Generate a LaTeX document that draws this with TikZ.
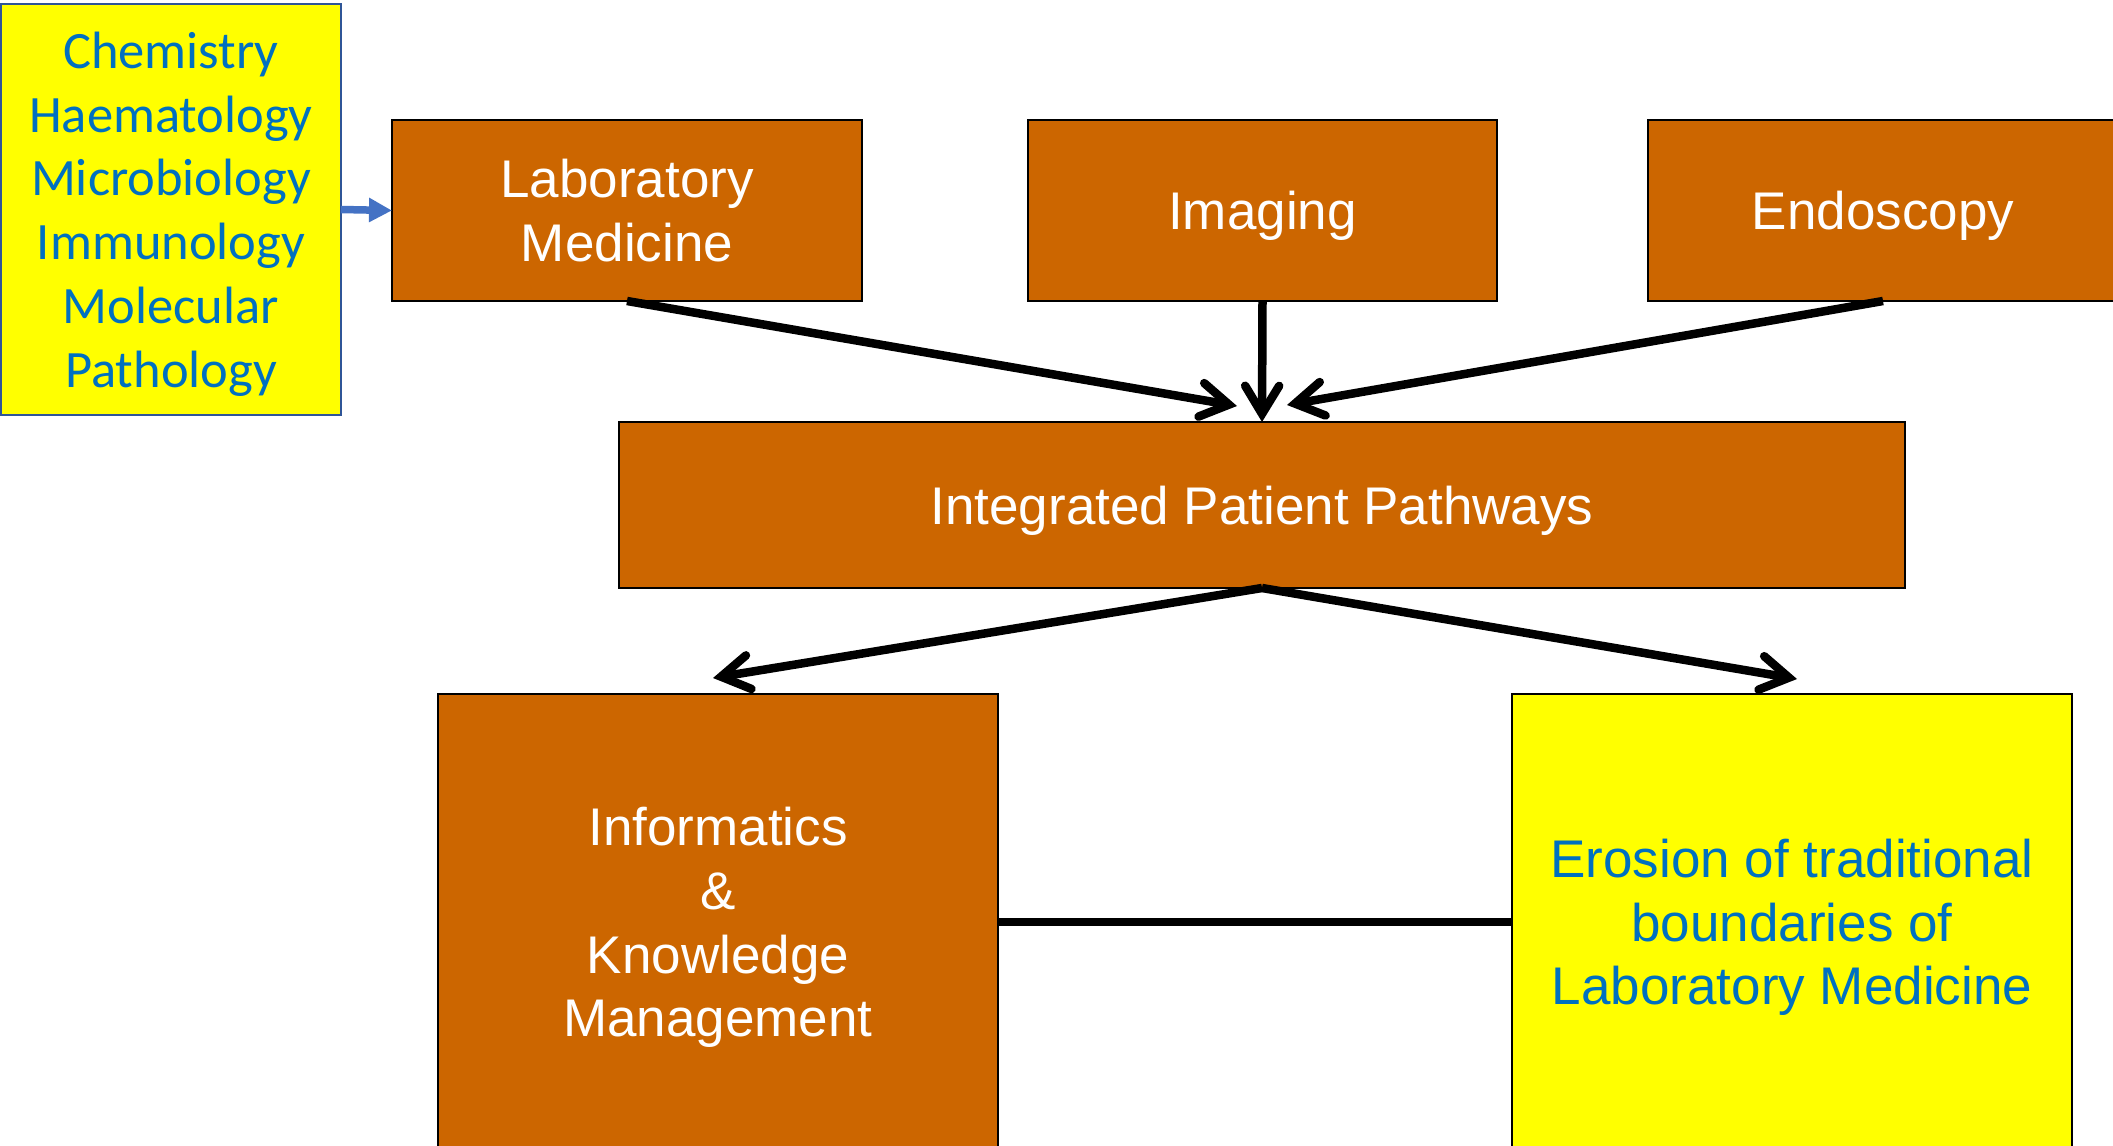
\documentclass[tikz,border=0pt]{standalone}
\usepackage{fontspec}
\setmainfont{Liberation Sans}
\newfontfamily\calfont{Carlito}
\usetikzlibrary{arrows.meta,calc}
\definecolor{boxorange}{HTML}{CC6600}
\definecolor{txtblue}{HTML}{0070C0}
\definecolor{arrblue}{HTML}{4472C4}
\definecolor{edgeblue}{HTML}{2F5597}
\definecolor{boxyellow}{HTML}{FFFF00}
\begin{document}
\begin{tikzpicture}[x=1pt,y=-1pt,
  basebox/.style={draw=black, line width=2.5pt, inner sep=0pt, outer sep=0pt,
    align=center, anchor=north west, text depth=0pt,
    font=\fontsize{53}{63.7}\selectfont},
  obox/.style={basebox, fill=boxorange, text=white},
  ybox/.style={basebox, fill=boxyellow, text=txtblue},
  conn/.style={line width=8.5pt, draw=black,
    -{Straight Barb[length=28pt,width=34pt,line cap=round,line join=miter]}},
  plainline/.style={line width=8.5pt, draw=black},
  bluearrow/.style={line width=7.5pt, draw=arrblue,
    -{Triangle[length=23pt,width=23pt]}}
]
\useasboundingbox (0,0) rectangle (2113,1146);
\clip (0,0) rectangle (2113,1146);
\fill[white] (0,0) rectangle (2113,1146);

\node[ybox, draw=edgeblue, minimum width=340pt, minimum height=411pt,
  font=\calfont\fontsize{52.5}{63.8}\selectfont] (chem) at (1,4)
  {Chemistry\\Haematology\\Microbiology\\Immunology\\Molecular\\Pathology};

\node[obox, minimum width=470pt, minimum height=181pt] (lab) at (392,120)
  {Laboratory\\Medicine};
\node[obox, minimum width=469pt, minimum height=181pt] (img) at (1028,120)
  {Imaging};
\node[obox, minimum width=470pt, minimum height=181pt] (endo) at (1648,120)
  {Endoscopy};

\node[obox, minimum width=1286pt, minimum height=166pt] (ipp) at (619,422)
  {Integrated Patient Pathways};

\node[obox, minimum width=560pt, minimum height=456pt] (info) at (438,694)
  {Informatics\\\&\\Knowledge\\Management};
\node[ybox, minimum width=560pt, minimum height=456pt] (ero) at (1512,694)
  {Erosion of traditional\\boundaries of\\Laboratory Medicine};

\draw[bluearrow] (chem.east) -- (lab.west);

\coordinate (labtip) at (1237,406);
\coordinate (endotip) at (1287,405);
\coordinate (infotip) at (713,678);
\coordinate (erotip) at (1797,679);

\draw[conn] (lab.south) -- (labtip);
\draw[conn] (img.south) -- (ipp.north);
\draw[conn] (endo.south) -- (endotip);
\draw[conn] (ipp.south) -- (infotip);
\draw[conn] (ipp.south) -- (erotip);
\draw[plainline] (info.east) -- (ero.west);
\end{tikzpicture}
\end{document}
